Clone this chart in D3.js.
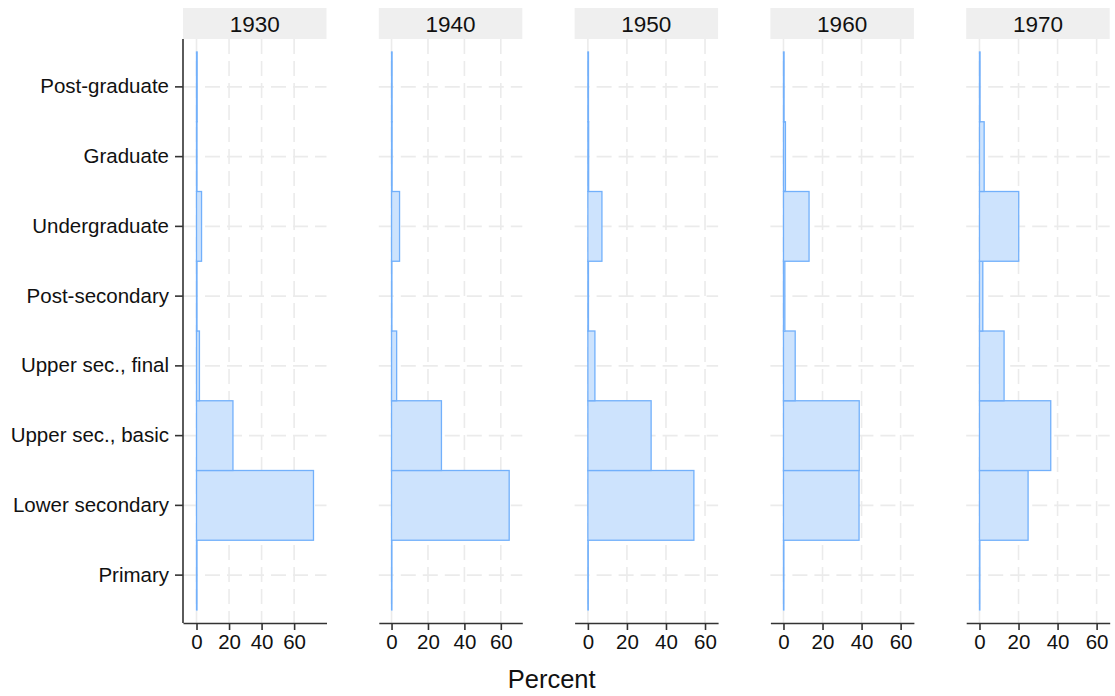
<!DOCTYPE html>
<html>
<head>
<meta charset="utf-8">
<script src="https://cdn.jsdelivr.net/npm/d3@7"></script>
<style>
  html, body { margin: 0; padding: 0; background: #ffffff; }
  svg { display: block; font-family: "Liberation Sans", Arial, sans-serif; }
</style>
</head>
<body>
<svg id="chart" width="1115" height="696"></svg>
<script>
// Education level categories, bottom to top
const levels = ["Primary", "Lower secondary", "Upper sec., basic", "Upper sec., final",
                "Post-secondary", "Undergraduate", "Graduate", "Post-graduate"];

// Birth cohorts (one panel each)
const cohorts = ["1930", "1940", "1950", "1960", "1970"];

// Percent share per level, in the same order as `levels`
const share1930 = [0.3, 71.9, 22.4, 1.8, 0.3, 3.1, 0.3, 0.4];
const share1940 = [0.2, 64.6, 27.4, 2.8, 0.2, 4.4, 0.3, 0.3];
const share1950 = [0.2, 54.3, 32.4, 3.6, 0.3, 7.2, 0.4, 0.3];
const share1960 = [0.2, 38.7, 38.8, 6.0, 0.7, 13.1, 1.0, 0.3];
const share1970 = [0.2, 24.9, 36.5, 12.6, 1.7, 20.1, 2.4, 0.3];

// Horizontal axis limits for each panel
const xMin = [-8.3, -7.0, -6.8, -6.7, -6.8];
const xMax = [79.9, 71.8, 66.7, 66.8, 66.7];
const xTicks = [0, 20, 40, 60];

const shares = [share1930, share1940, share1950, share1960, share1970];

const svg = d3.select("#chart");

const panelTop = 39, panelBottom = 623;
const panelW = 143.5, panelStep = 195.8, firstLeft = 183;
const stripTop = 8;

const y = d3.scaleBand()
  .domain(levels)
  .range([panelBottom - 13, panelTop + 13])
  .paddingInner(0)
  .paddingOuter(0);

const gridColor = "#ebebeb";
const labelFont = "'Liberation Sans', Arial, sans-serif";

cohorts.forEach((c, i) => {
  const left = firstLeft + i * panelStep;
  const x = d3.scaleLinear().domain([xMin[i], xMax[i]]).range([left, left + panelW]);
  const g = svg.append("g");

  // strip header
  g.append("rect")
    .attr("x", left).attr("y", stripTop)
    .attr("width", panelW).attr("height", panelTop - stripTop)
    .attr("fill", "#efefef");
  g.append("text")
    .attr("x", left + panelW / 2).attr("y", 31.5)
    .attr("text-anchor", "middle")
    .attr("font-size", 22.5).attr("fill", "#111")
    .text(c);

  // gridlines
  g.append("g").selectAll("line").data(levels).join("line")
    .attr("x1", left).attr("x2", left + panelW)
    .attr("y1", d => y(d) + y.bandwidth() / 2)
    .attr("y2", d => y(d) + y.bandwidth() / 2)
    .attr("stroke", gridColor).attr("stroke-width", 1.6)
    .attr("stroke-dasharray", "15,7");
  g.append("g").selectAll("line").data(xTicks).join("line")
    .attr("x1", d => x(d)).attr("x2", d => x(d))
    .attr("y1", panelTop).attr("y2", panelBottom)
    .attr("stroke", gridColor).attr("stroke-width", 1.6)
    .attr("stroke-dasharray", "15,7");

  // bars
  g.append("g").selectAll("rect").data(levels.map((l, k) => ({ level: l, value: shares[i][k] })))
    .join("rect")
    .attr("x", x(0))
    .attr("y", d => y(d.level))
    .attr("width", d => x(d.value) - x(0))
    .attr("height", y.bandwidth())
    .attr("fill", "#cde3fd")
    .attr("stroke", "#72b0fb")
    .attr("stroke-width", 1.3);

  // x axis
  const xAxis = d3.axisBottom(x).tickValues(xTicks).tickSize(7).tickSizeOuter(0).tickPadding(4);
  const ax = g.append("g")
    .attr("transform", `translate(0,${panelBottom})`)
    .call(xAxis);
  ax.select(".domain").attr("stroke", "#333").attr("stroke-width", 1.6);
  ax.selectAll(".tick line").attr("stroke", "#333").attr("stroke-width", 1.6);
  ax.selectAll(".tick text").attr("font-size", 20.5).attr("fill", "#111")
    .attr("font-family", labelFont);

  // y axis on first panel only
  if (i === 0) {
    const yAxis = d3.axisLeft(y).tickSize(8).tickSizeOuter(0).tickPadding(6);
    const ay = g.append("g").attr("transform", `translate(${left},0)`).call(yAxis);
    ay.select(".domain").attr("d", `M0,${panelTop}V${panelBottom}`)
      .attr("stroke", "#333").attr("stroke-width", 1.6);
    ay.selectAll(".tick line").attr("stroke", "#333").attr("stroke-width", 1.6);
    ay.selectAll(".tick text").attr("font-size", 20.5).attr("fill", "#111")
      .attr("font-family", labelFont);
  }
});

// axis title
svg.append("text")
  .attr("x", 551.7).attr("y", 687.5)
  .attr("text-anchor", "middle")
  .attr("font-size", 25.5).attr("fill", "#111")
  .text("Percent");
</script>
</body>
</html>
